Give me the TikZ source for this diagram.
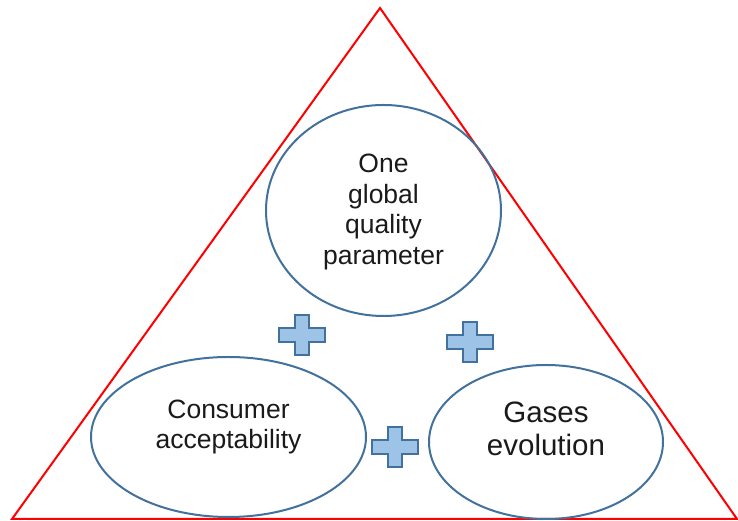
\documentclass[tikz,border=0pt]{standalone}
\usepackage{fontspec}
\setmainfont{Liberation Sans}
\usetikzlibrary{shapes.geometric}
\definecolor{ellblue}{HTML}{41719C}
\definecolor{plusfill}{HTML}{9DC3E6}
\definecolor{txt}{HTML}{1A1A1A}
\tikzset{
  bubble/.style={ellipse, draw=ellblue, line width=2pt, inner sep=0pt},
  label text/.style={align=center, text=txt, inner sep=0pt},
  tri/.style={draw=red, line width=2pt, line join=miter},
  plusmark/.style={draw=ellblue, fill=plusfill, line width=2.2pt, line join=miter},
}
\newcommand{\plusat}[2]{%
  \draw[plusmark, shift={(#1,#2)}] (-7,-20) -- (7,-20) -- (7,-7) -- (23,-7) -- (23,7) -- (7,7) -- (7,20) -- (-7,20) -- (-7,7) -- (-23,7) -- (-23,-7) -- (-7,-7) -- cycle;}
\begin{document}
\begin{tikzpicture}[x=1pt,y=1pt]
\useasboundingbox (0,0) rectangle (738,521);
\coordinate (apex) at (380,513);
\coordinate (bl) at (12,2);
\coordinate (br) at (737,2);
\draw[tri] (apex) -- (bl) -- (br) -- cycle;
\node[bubble, minimum width=235pt, minimum height=211pt] (top) at (383.5,310.5) {};
\node[bubble, minimum width=275pt, minimum height=160pt] (left) at (228.5,84) {};
\node[bubble, minimum width=234pt, minimum height=154pt] (right) at (546,79) {};
\node[label text, font=\fontsize{26.5}{30.7}\selectfont] (toptext) at ([yshift=-1.5pt]top.center) {One\\global\\quality\\parameter};
\node[label text, font=\fontsize{26.5}{30}\selectfont] (lefttext) at ([yshift=10pt]left.center) {Consumer\\acceptability};
\node[label text, font=\fontsize{29.5}{33}\selectfont] (righttext) at ([yshift=13pt]right.center) {Gases\\evolution};
\plusat{302}{186}
\plusat{470}{179}
\plusat{395}{74}
\end{tikzpicture}
\end{document}
